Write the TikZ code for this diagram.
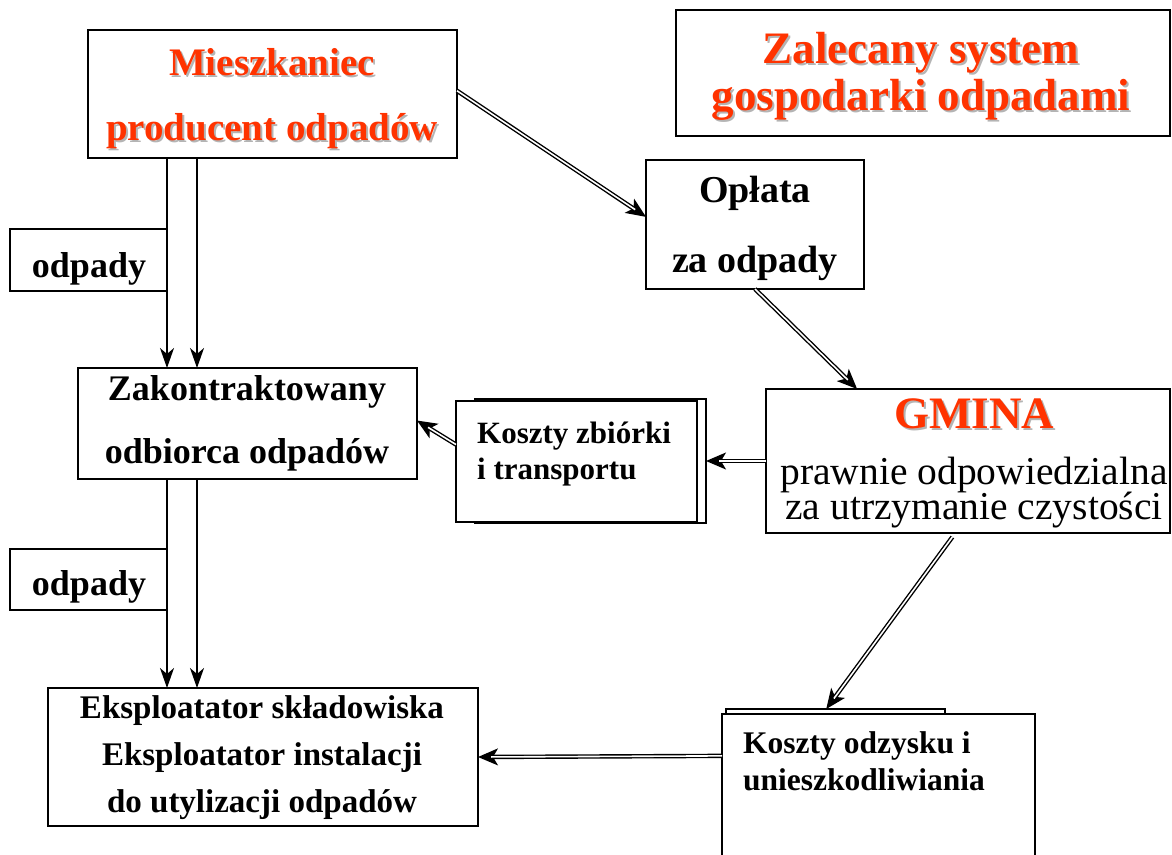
\documentclass[tikz,border=0pt]{standalone}
\usepackage{fontspec}
\setmainfont{Liberation Serif}
\usetikzlibrary{arrows.meta,calc}
\definecolor{redt}{RGB}{255,51,0}
\definecolor{shd}{RGB}{180,180,180}
\newcommand\shtxt[1]{\rlap{\kern2pt\raisebox{-2pt}{\textcolor{shd}{#1}}}#1}
\newcommand\dblarrow[3][]{%
  \draw[dbltip] ($(#3)!40pt!(#2)$) -- (#3);
  \draw[dblshaft,#1] (#2) -- (#3);}
\begin{document}
\begin{tikzpicture}[x=1pt,y=-1pt,
  box/.style={draw, line width=1.6pt, fill=white, inner sep=0pt, outer sep=0pt},
  lbl/.style={anchor=base, inner sep=0pt, font=\bfseries\fontsize{#1}{#1}\selectfont},
  lbl/.default=36,
  rlbl/.style={anchor=base, inner sep=0pt, text=redt, font=\bfseries\fontsize{#1}{#1}\selectfont},
  plbl/.style={anchor=base, inner sep=0pt, text height=26pt, text depth=3pt, font=\fontsize{#1}{#1}\selectfont},
  llbl/.style={anchor=base west, inner sep=0pt, font=\bfseries\fontsize{#1}{#1}\selectfont},
  dblshaft/.style={double, double distance=1.6pt, line width=1.4pt, shorten >=13pt},
  dbltip/.style={line width=1.4pt, -{Stealth[length=20pt,width=17pt,inset=5pt]}},
  sarr/.style={line width=1.3pt, -{Stealth[length=20pt,width=14pt,inset=6pt]}}]
\useasboundingbox (0,0) rectangle (1172,854);

% boxes
\node[box, minimum width=369pt, minimum height=128pt] (mies) at (272.5,94) {};
\node[box, minimum width=494pt, minimum height=126pt] (title) at (923,73) {};
\node[box, minimum width=218pt, minimum height=129pt] (oplata) at (755,224.5) {};
\node[box, minimum width=157pt, minimum height=62pt] (odp1) at (88.5,260) {};
\node[box, minimum width=339pt, minimum height=111pt] (zak) at (247.5,423.5) {};
\node[box, minimum width=231pt, minimum height=124pt] (kzbb) at (590.5,461) {};
\node[box, minimum width=241pt, minimum height=121pt] (kzbf) at (576.5,461.5) {};
\node[box, minimum width=404pt, minimum height=144pt] (gmina) at (968,461) {};
\node[box, minimum width=157pt, minimum height=61pt] (odp2) at (88.5,579.5) {};
\node[box, minimum width=430pt, minimum height=138pt] (eks) at (263,757) {};
\node[box, minimum width=219pt, minimum height=151pt] (kodb) at (835.5,784.5) {};
\node[box, minimum width=313pt, minimum height=156pt] (kodf) at (878.5,792) {};

% texts
\node[rlbl=39] (m1) at (272,75) {\shtxt{Mieszkaniec}};
\node[rlbl=39] (m2) at (272,140) {\shtxt{producent odpadów}};
\node[rlbl=45] (ti1) at (921,63) {\shtxt{Zalecany system}};
\node[rlbl=45] (ti2) at (921,110) {\shtxt{gospodarki odpadami}};
\node[lbl=38] (o1) at (755,202) {Opłata};
\node[lbl=38] (o2) at (755,272) {za odpady};
\node[lbl=36] (d1) at (89,277) {odpady};
\node[lbl=36] (z1) at (247,400) {Zakontraktowany};
\node[lbl=36] (z2) at (247,463) {odbiorca odpadów};
\node[llbl=31] (k1) at (477,443) {Koszty zbiórki};
\node[llbl=31] (k2) at (477,479) {i transportu};
\node[rlbl=45] (g1) at (974,428) {\shtxt{GMINA}};
\node[plbl=39.5] (g2) at (974,484) {prawnie odpowiedzialna};
\node[plbl=39.5] (g3) at (974,519) {za utrzymanie czystości};
\node[lbl=36] (d2) at (89,595) {odpady};
\node[lbl=33] (e1) at (262,718) {Eksploatator składowiska};
\node[lbl=33] (e2) at (262,765) {Eksploatator instalacji};
\node[lbl=33] (e3) at (262,812) {do utylizacji odpadów};
\node[llbl=31.5] (q1) at (743,753) {Koszty odzysku i};
\node[llbl=31.5] (q2) at (743,790) {unieszkodliwiania};

% connectors
\dblarrow{mies.1}{oplata.176}
\dblarrow{oplata.south}{gmina.147.5}
\dblarrow{gmina.west}{kzbb.east}
\dblarrow{kzbf.172.2}{zak.1.2}
\dblarrow[shorten <=5pt]{gmina.-100}{kodb.97.9}
\dblarrow{kodf.167.7}{eks.east}
\draw[sarr] (mies.south -| odp1.east) -- (zak.north -| odp1.east);
\draw[sarr] ($(mies.south -| odp1.east)+(30,0)$) -- ($(zak.north -| odp1.east)+(30,0)$);
\draw[sarr] (zak.south -| odp2.east) -- (eks.north -| odp2.east);
\draw[sarr] ($(zak.south -| odp2.east)+(30,0)$) -- ($(eks.north -| odp2.east)+(30,0)$);
\end{tikzpicture}
\end{document}
